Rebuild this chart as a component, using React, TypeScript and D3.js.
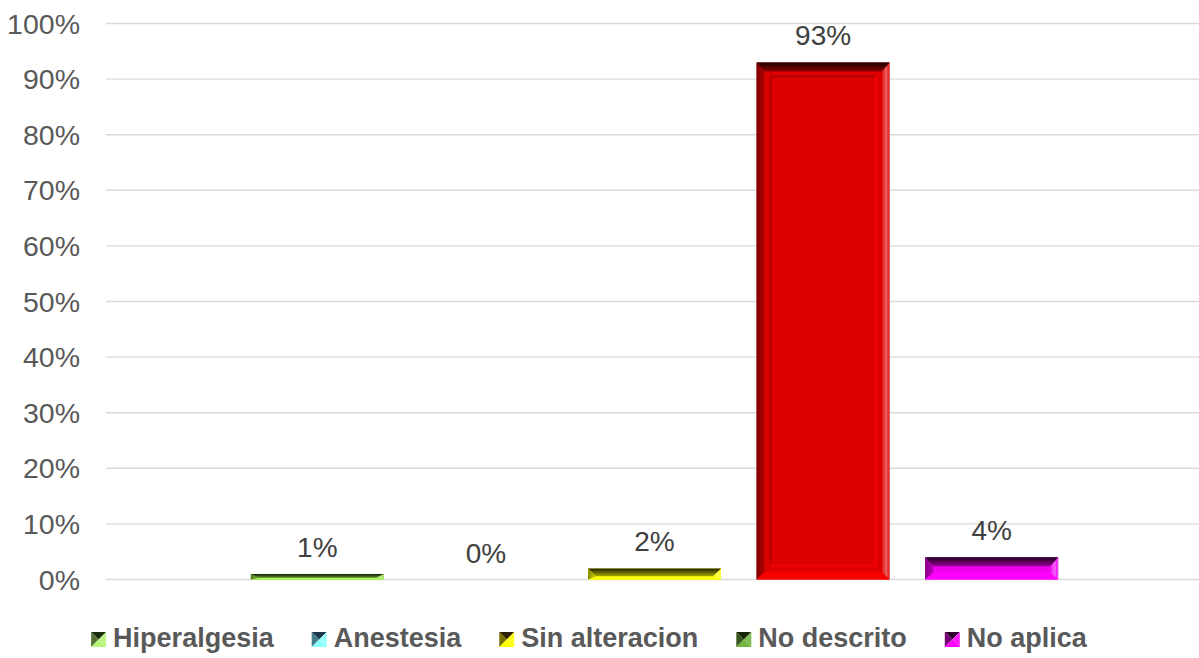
import React from "react";
import * as d3 from "d3";

const categories = ["Hiperalgesia", "Anestesia", "Sin alteracion", "No descrito", "No aplica"];
const values = [0.01, 0.0, 0.02, 0.93, 0.04];
const barColors = ["#8fe040", "#80ffff", "#ffff00", "#dd0000", "#ee00ee"];
const legendLight = ["#b4f478", "#8cffff", "#ffff00", "#72b442", "#ff00ff"];
const legendDark = ["#1c2c0c", "#1e3850", "#302000", "#142408", "#300030"];
const yTicks = [0, 0.1, 0.2, 0.3, 0.4, 0.5, 0.6, 0.7, 0.8, 0.9, 1.0];

const W = 1199;
const H = 658;
const FONT = "'Liberation Sans', Arial, sans-serif";
const LEG_SIZE = 27;

const y = d3.scaleLinear().domain([0, 1]).range([579.5, 23.5]);
const x = d3
  .scaleBand<string>()
  .domain(categories)
  .range([108, 1201])
  .paddingInner(0.211)
  .paddingOuter(0.847);

const pct = d3.format(".0%");

function measure(text: string, font: string): number {
  const c = document.createElement("canvas").getContext("2d");
  if (!c) return text.length * 14;
  c.font = font;
  return c.measureText(text).width;
}

function mix(a: string, b: string, t: number) {
  return d3.interpolateRgb(a, b)(t);
}

function Bar({ i }: { i: number }) {
  const v = values[i];
  const x0 = x(categories[i]) as number;
  const w = x.bandwidth();
  const x1 = x0 + w;
  const y1 = y(0);
  const y0 = y(v);
  const h = y1 - y0;
  if (h <= 0.01) return null;
  const base = barColors[i];
  const tb = Math.min(9, h * 0.7);
  const bb = Math.min(8, h * 0.3);
  const s = Math.min(8, w / 2);
  const id = `g${i}`;
  const pts = (p: number[][]) => p.map((q) => q.join(",")).join(" ");
  const inner = 14;
  const showInner = h > inner * 2 + 4;
  return (
    <g>
      <defs>
        <linearGradient id={`${id}t`} x1="0" y1="0" x2="0" y2="1">
          <stop offset="0" stopColor={mix(base, "#000", 0.9)} />
          <stop offset="1" stopColor={mix(base, "#000", 0.35)} />
        </linearGradient>
        <linearGradient id={`${id}l`} x1="0" y1="0" x2="1" y2="0">
          <stop offset="0" stopColor={mix(base, "#000", 0.45)} />
          <stop offset="1" stopColor={mix(base, "#000", 0.2)} />
        </linearGradient>
        <linearGradient id={`${id}r`} x1="0" y1="0" x2="1" y2="0">
          <stop offset="0" stopColor={mix(base, "#fff", 0.05)} />
          <stop offset="0.6" stopColor={mix(base, "#fff", 0.4)} />
          <stop offset="0.8" stopColor={mix(base, "#fff", 0.15)} />
          <stop offset="1" stopColor={mix(base, "#fff", 0.3)} />
        </linearGradient>
        <linearGradient id={`${id}b`} x1="0" y1="0" x2="0" y2="1">
          <stop offset="0" stopColor={d3.rgb(base).brighter(0.25).formatHex()} />
          <stop offset="1" stopColor={d3.rgb(base).brighter(0.4).formatHex()} />
        </linearGradient>
      </defs>
      <rect x={x0} y={y0} width={w} height={h} fill={base} />
      <polygon fill={`url(#${id}b)`} points={pts([[x0, y1], [x1, y1], [x1 - s, y1 - bb], [x0 + s, y1 - bb]])} />
      <polygon fill={`url(#${id}l)`} points={pts([[x0, y0], [x0 + s, y0 + tb], [x0 + s, y1 - bb], [x0, y1]])} />
      <polygon fill={`url(#${id}r)`} points={pts([[x1, y0], [x1 - s, y0 + tb], [x1 - s, y1 - bb], [x1, y1]])} />
      <polygon fill={`url(#${id}t)`} points={pts([[x0, y0], [x1, y0], [x1 - s, y0 + tb], [x0 + s, y0 + tb]])} />
      {showInner && (
        <g fill="none" strokeWidth={2}>
          <path d={`M${x0 + inner},${y1 - inner} V${y0 + inner} H${x1 - inner}`} stroke={mix(base, "#000", 0.2)} />
          <path d={`M${x1 - inner},${y0 + inner} V${y1 - inner} H${x0 + inner}`} stroke={d3.rgb(base).brighter(0.3).formatHex()} />
        </g>
      )}
    </g>
  );
}

function Legend() {
  const mk = 15;
  const gapMk = 7;
  const gapItem = 38;
  const widths = categories.map((c) => measure(c, `bold ${LEG_SIZE}px 'Liberation Sans'`));
  const itemW = widths.map((tw) => mk + gapMk + tw);
  const total = d3.sum(itemW) + gapItem * (categories.length - 1);
  const cx = 589;
  let cur = cx - total / 2;
  const items = categories.map((c, i) => {
    const start = cur;
    cur += itemW[i] + gapItem;
    return { c, i, start };
  });
  const my = 632;
  return (
    <g>
      {items.map(({ c, i, start }) => {
        const a = start, b = start + mk, t = my, bt = my + mk;
        const mx = (a + b) / 2, mmy = (t + bt) / 2;
        const dark = legendDark[i];
        const light = legendLight[i];
        return (
          <g key={c}>
            <polygon points={`${a},${t} ${b},${t} ${mx},${mmy}`} fill={dark} />
            <polygon points={`${a},${t} ${a},${bt} ${mx},${mmy}`} fill={mix(dark, light, 0.35)} />
            <polygon points={`${b},${t} ${b},${bt} ${mx},${mmy}`} fill={mix(light, "#fff", 0.1)} />
            <polygon points={`${a},${bt} ${b},${bt} ${mx},${mmy}`} fill={light} />
            <text x={b + gapMk} y={647} fontFamily={FONT} fontWeight="bold" fontSize={LEG_SIZE} fill="#595959">
              {c}
            </text>
          </g>
        );
      })}
    </g>
  );
}

export default function App() {
  return (
    <svg width={W} height={H} style={{ position: "absolute", left: 0, top: 0, background: "#fff" }}>
      <rect width={W} height={H} fill="#fff" />
      {yTicks.map((t) => (
        <g key={t}>
          <line x1={106} x2={1199} y1={y(t)} y2={y(t)} stroke="#d9d9d9" strokeWidth={1.4} />
          <text x={80} y={y(t) + 10} textAnchor="end" fontFamily={FONT} fontSize={28.5} fill="#595959">
            {pct(t)}
          </text>
        </g>
      ))}
      {categories.map((c, i) => (
        <Bar key={c} i={i} />
      ))}
      {categories.map((c, i) => (
        <text
          key={c + "l"}
          x={(x(c) as number) + x.bandwidth() / 2}
          y={y(values[i]) - 17}
          textAnchor="middle"
          fontFamily={FONT}
          fontSize={28}
          fill="#404040"
        >
          {pct(values[i])}
        </text>
      ))}
      <Legend />
    </svg>
  );
}
